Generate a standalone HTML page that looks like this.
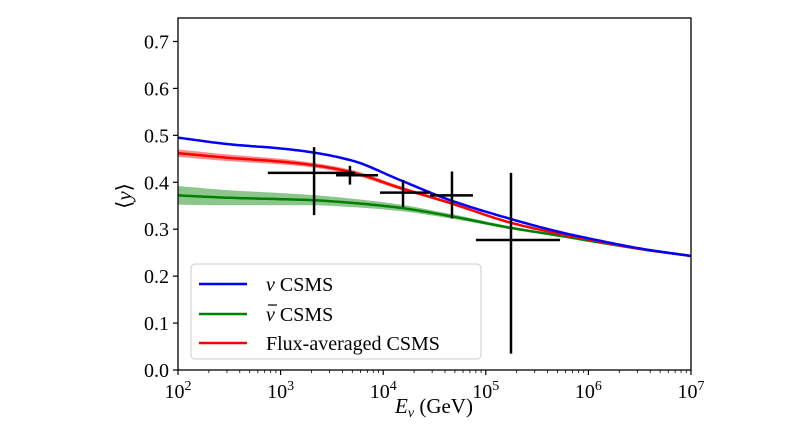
<!DOCTYPE html>
<html><head><meta charset="utf-8"><style>
html,body{margin:0;padding:0;background:#fff;}
svg{display:block;font-family:"Liberation Serif",serif;}
</style></head><body>
<svg id="chart" width="800" height="429" viewBox="0 0 800 429">
<g id="bands"></g>
<g id="lines"></g>
<g id="points"></g>
<g id="axes"></g>
<g>
<rect x="191" y="264" width="290" height="95" rx="4" fill="#fff" fill-opacity="0.85" stroke="#ccc"/>
<g><line x1="199" y1="284" x2="247" y2="284" stroke="#0000ff" stroke-width="2.5"/><text x="266" y="291" font-size="20"><tspan font-style="italic">ν</tspan> CSMS</text></g>
<g><line x1="199" y1="314" x2="247" y2="314" stroke="#008000" stroke-width="2.5"/><line x1="268" y1="305" x2="277" y2="305" stroke="#000" stroke-width="1.2"/><text x="266" y="321" font-size="20"><tspan font-style="italic">ν</tspan> CSMS</text></g>
<g><line x1="199" y1="343" x2="247" y2="343" stroke="#ff0000" stroke-width="2.5"/><text x="266" y="350" font-size="20">Flux-averaged CSMS</text></g>
</g>
<text x="434" y="413" font-size="21" text-anchor="middle"><tspan font-style="italic">E</tspan><tspan font-style="italic" font-size="14" dy="4">ν</tspan><tspan dy="-4"> (GeV)</tspan></text>
<text transform="translate(131,196) rotate(-90)" font-size="21" text-anchor="middle">⟨<tspan font-style="italic">y</tspan>⟩</text>
</svg>
<script>
const logE = [2,2.5,3,3.3,3.7,4.15,4.65,5.24,5.72,6.1,6.5,7];
const blueY = [0.495,0.481,0.472,0.464,0.446,0.406,0.362,0.322,0.294,0.276,0.259,0.243];
const redY  = [0.462,0.452,0.444,0.437,0.421,0.389,0.356,0.314,0.290,0.274,0.258,0.243];
const greenY= [0.372,0.367,0.364,0.362,0.356,0.346,0.328,0.303,0.286,0.272,0.258,0.243];
const redBand = [0.008,0.007,0.006,0.005,0.005,0.004,0.003,0.002,0.002,0.001,0.001,0.001];
const greenBand = [0.02,0.016,0.013,0.011,0.009,0.007,0.005,0.003,0.002,0.001,0.001,0.001];
const ptE = [2120,4740,15600,46800,176000];
const ptELo = [750,3470,9300,28600,80000];
const ptEHi = [5300,8900,28600,75000,528000];
const ptY = [0.42,0.415,0.378,0.372,0.277];
const ptYLo = [0.33,0.395,0.347,0.323,0.035];
const ptYHi = [0.475,0.435,0.405,0.423,0.42];
const yTicks = ["0.0","0.1","0.2","0.3","0.4","0.5","0.6","0.7"];
const xTickExp = [2,3,4,5,6,7];

const L=178,R=691,T=18,B=370;
const xs = le => L+(le-2)*(R-L)/5;
const ys = v => B - v*(B-T)/0.75;
const NS="http://www.w3.org/2000/svg";
function mk(tag,parent,attrs){const e=document.createElementNS(NS,tag);for(const k in attrs)e.setAttribute(k,attrs[k]);parent.appendChild(e);return e;}
const bands=document.getElementById('bands'),lines=document.getElementById('lines'),points=document.getElementById('points'),axes=document.getElementById('axes');
function smoothPts(yv){
  const n=logE.length,h=[],d=[],m=new Array(n);
  for(let i=0;i<n-1;i++){h.push(logE[i+1]-logE[i]);d.push((yv[i+1]-yv[i])/h[i]);}
  m[0]=d[0];m[n-1]=d[n-2];
  for(let i=1;i<n-1;i++){
    if(d[i-1]*d[i]<=0)m[i]=0;else{const w1=2*h[i]+h[i-1],w2=h[i]+2*h[i-1];m[i]=(w1+w2)/(w1/d[i-1]+w2/d[i]);}
  }
  const out=[];
  for(let i=0;i<n-1;i++)for(let k=0;k<20;k++){
    const t=k/20,t2=t*t,t3=t2*t;
    const v=(2*t3-3*t2+1)*yv[i]+(t3-2*t2+t)*h[i]*m[i]+(-2*t3+3*t2)*yv[i+1]+(t3-t2)*h[i]*m[i+1];
    out.push([xs(logE[i]+t*h[i]),ys(v)]);
  }
  out.push([xs(logE[n-1]),ys(yv[n-1])]);return out;
}
function band(y0,w,color,name){
  const up=smoothPts(y0.map((v,i)=>v+w[i])),dn=smoothPts(y0.map((v,i)=>v-w[i])).reverse();
  const d="M"+up.concat(dn).map(p=>p[0].toFixed(1)+","+p[1].toFixed(1)).join("L")+"Z";
  const p=mk('path',bands,{d:d,fill:color,'fill-opacity':0.45});
  
  
}
band(greenY,greenBand,'#008000','nubar-band');
band(redY,redBand,'#ff0000','flux-band');
function line(yv,color,name){
  const p=mk('path',lines,{d:"M"+smoothPts(yv).map(p=>p[0].toFixed(1)+","+p[1].toFixed(1)).join("L"),fill:'none',stroke:color,'stroke-width':2.5,'stroke-linejoin':'round'});
  
  
}
line(greenY,'#008000','nubar-line');
line(redY,'#ff0000','flux-line');
line(blueY,'#0000ff','nu-line');
ptE.forEach((e,i)=>{
  const g=mk('g',points,{stroke:'#000','stroke-width':2.5});
  
  
  const cx=xs(Math.log10(e)),cy=ys(ptY[i]);
  mk('line',g,{x1:xs(Math.log10(ptELo[i])),x2:xs(Math.log10(ptEHi[i])),y1:cy,y2:cy});
  mk('line',g,{x1:cx,x2:cx,y1:ys(ptYLo[i]),y2:ys(ptYHi[i])});
});
const fr=mk('rect',axes,{x:L,y:T,width:R-L,height:B-T,fill:'none',stroke:'#000','stroke-width':1.3});


yTicks.forEach((t,i)=>{
  const y=ys(parseFloat(t));
  mk('line',axes,{x1:L-5,x2:L,y1:y,y2:y,stroke:'#000','stroke-width':1.2});
  const tx=mk('text',axes,{x:L-9,y:y+7,'font-size':20,'text-anchor':'end'});
  tx.textContent=t;
  
  
});
xTickExp.forEach(p=>{
  const x=xs(p);
  mk('line',axes,{x1:x,x2:x,y1:B,y2:B+5,stroke:'#000','stroke-width':1.2});
  const tx=mk('text',axes,{x:x,y:B+28,'font-size':20,'text-anchor':'middle'});
  tx.textContent='10';
  const s=mk('tspan',tx,{dy:-8,'font-size':14});s.textContent=String(p);
  
  
  if(p<7)for(let m=2;m<10;m++){const mx=xs(p+Math.log10(m));mk('line',axes,{x1:mx,x2:mx,y1:B,y2:B+3,stroke:'#000','stroke-width':0.8});}
});
</script>
</body></html>
